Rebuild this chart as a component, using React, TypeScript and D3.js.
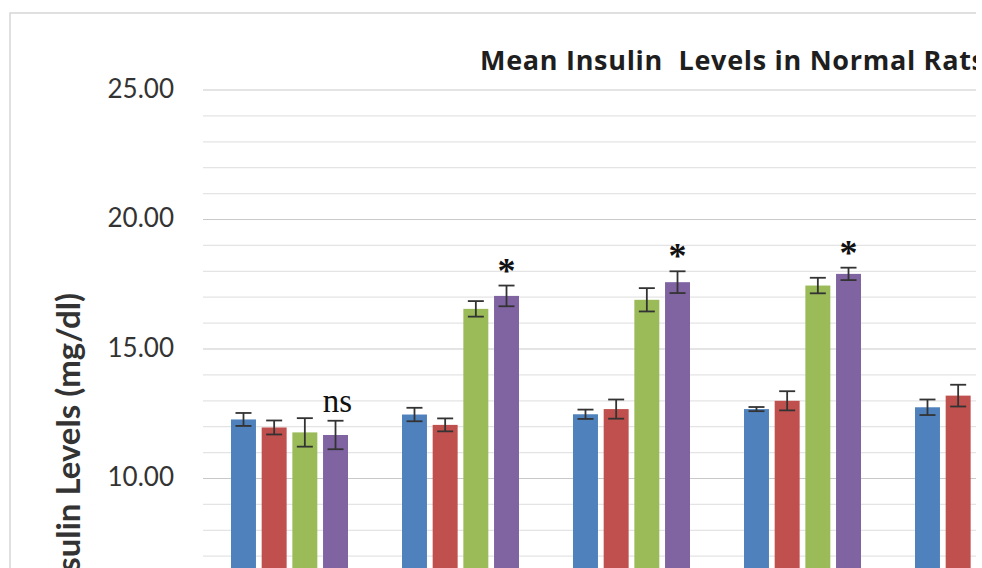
import React from "react";
import * as d3 from "d3";

// Groups along the x axis (their labels sit below the visible frame)
const categories = ["Group 1", "Group 2", "Group 3", "Group 4", "Group 5"];
const seriesNames = ["Series 1", "Series 2", "Series 3", "Series 4"];
const seriesColors = ["#4F81BD", "#C0504D", "#9BBB59", "#8064A2"];

// Mean insulin per series (mg/dl)
const blueMeans = [12.28, 12.47, 12.48, 12.68, 12.75];
const redMeans = [11.97, 12.07, 12.68, 13.0, 13.2];
const greenMeans = [11.78, 16.55, 16.9, 17.45, null];
const purpleMeans = [11.68, 17.05, 17.58, 17.9, null];

// Error-bar half widths
const blueErr = [0.25, 0.26, 0.18, 0.08, 0.3];
const redErr = [0.27, 0.25, 0.37, 0.37, 0.42];
const greenErr = [0.55, 0.3, 0.45, 0.3, null];
const purpleErr = [0.55, 0.4, 0.42, 0.24, null];

// Significance marks over the last series of each group
const significance = ["ns", "*", "*", "*", ""];

const yTicks = [0, 5, 10, 15, 20, 25];
const title = "Mean Insulin  Levels in Normal Rats";
const yTitle = "Insulin Levels (mg/dl)";

const W = 982;
const H = 568;
const plotLeft = 203;
const plotRight = 976;

export default function App() {
  const means = [blueMeans, redMeans, greenMeans, purpleMeans];
  const errs = [blueErr, redErr, greenErr, purpleErr];

  const y = d3.scaleLinear().domain([0, 25]).range([737.5, 90]);
  const x0 = d3
    .scaleBand<string>()
    .domain(categories)
    .range([204, 204 + 171 * categories.length])
    .paddingInner(0)
    .paddingOuter(0);
  const groupPad = 27;
  const x1 = d3
    .scaleBand<string>()
    .domain(seriesNames)
    .range([0, 117])
    .paddingInner(0.186)
    .paddingOuter(0);

  const minorTicks = d3.range(0, 26, 1).filter((t) => y(t) <= H);
  const shownTicks = yTicks.filter((t) => y(t) + 12 <= H);
  const fmt = d3.format(".2f");
  const font = "Lato, 'Open Sans', 'DejaVu Sans', sans-serif";
  const titleFont = "'Open Sans', Lato, sans-serif";
  const serif = "'Liberation Serif', 'DejaVu Serif', serif";
  const capW = 8;

  return (
    <svg
      width={W}
      height={H}
      viewBox={`0 0 ${W} ${H}`}
      style={{ position: "absolute", left: 0, top: 0, background: "#fff" }}
    >
      <defs>
        <clipPath id="frame">
          <rect x={0} y={0} width={plotRight} height={H} />
        </clipPath>
      </defs>
      <rect x={0} y={0} width={W} height={H} fill="#fff" />
      <g clipPath="url(#frame)">
        {/* chart border */}
        <rect
          x={10}
          y={13}
          width={W + 20}
          height={H + 20}
          fill="#fff"
          stroke="#d6d6d6"
          strokeWidth={1.5}
        />
        {/* gridlines */}
        {minorTicks.map((t) => (
          <line
            key={"g" + t}
            x1={plotLeft}
            x2={plotRight}
            y1={y(t)}
            y2={y(t)}
            stroke={t % 5 === 0 ? "#c9c9c9" : "#e4e4e4"}
            strokeWidth={1.2}
          />
        ))}
        {/* tick labels */}
        {shownTicks.map((t) => (
          <text
            key={"t" + t}
            x={174}
            y={y(t)}
            dy="0.3em"
            textAnchor="end"
            fontFamily={font}
            fontSize={26}
            fill="#333"
          >
            {fmt(t)}
          </text>
        ))}
        {/* bars */}
        {categories.map((c, ci) => (
          <g key={c} transform={`translate(${(x0(c) ?? 0) + groupPad},0)`}>
            {seriesNames.map((s, si) => {
              const v = means[si][ci];
              if (v == null) return null;
              const bx = x1(s) ?? 0;
              const bw = x1.bandwidth();
              return (
                <rect
                  key={s}
                  x={bx}
                  y={y(v)}
                  width={bw}
                  height={y(0) - y(v)}
                  fill={seriesColors[si]}
                />
              );
            })}
            {seriesNames.map((s, si) => {
              const v = means[si][ci];
              const e = errs[si][ci];
              if (v == null || e == null) return null;
              const cx = (x1(s) ?? 0) + x1.bandwidth() / 2;
              const yt = y(v + e);
              const yb = y(v - e);
              return (
                <g key={"e" + s} stroke="#333" strokeWidth={1.8}>
                  <line x1={cx} x2={cx} y1={yt} y2={yb} />
                  <line x1={cx - capW} x2={cx + capW} y1={yt} y2={yt} />
                  <line x1={cx - capW} x2={cx + capW} y1={yb} y2={yb} />
                </g>
              );
            })}
            {(() => {
              const mark = significance[ci];
              const v = purpleMeans[ci];
              const e = purpleErr[ci];
              if (!mark || v == null || e == null) return null;
              const s = seriesNames[3];
              const cx = (x1(s) ?? 0) + x1.bandwidth() / 2;
              const top = y(v + e);
              if (mark === "ns") {
                return (
                  <text
                    x={cx + 2}
                    y={top - 9}
                    textAnchor="middle"
                    fontFamily={serif}
                    fontSize={33}
                    fill="#111"
                  >
                    {mark}
                  </text>
                );
              }
              return (
                <text
                  x={cx}
                  y={top - 3}
                  textAnchor="middle"
                  fontFamily={serif}
                  fontWeight="bold"
                  fontSize={36}
                  fill="#111"
                >
                  {mark}
                </text>
              );
            })()}
          </g>
        ))}
        {/* title */}
        <text
          x={480}
          y={70}
          fontFamily={titleFont}
          fontWeight="bold"
          fontSize={27}
          fill="#1e1e1e"
          textLength={505}
          lengthAdjust="spacing"
          style={{ whiteSpace: "pre" }}
        >
          {title}
        </text>
        {/* y-axis title */}
        <text
          transform={`translate(80,293) rotate(-90)`}
          textAnchor="end"
          fontFamily={font}
          fontWeight="bold"
          fontSize={33}
          fill="#333"
        >
          {yTitle}
        </text>
      </g>
    </svg>
  );
}
